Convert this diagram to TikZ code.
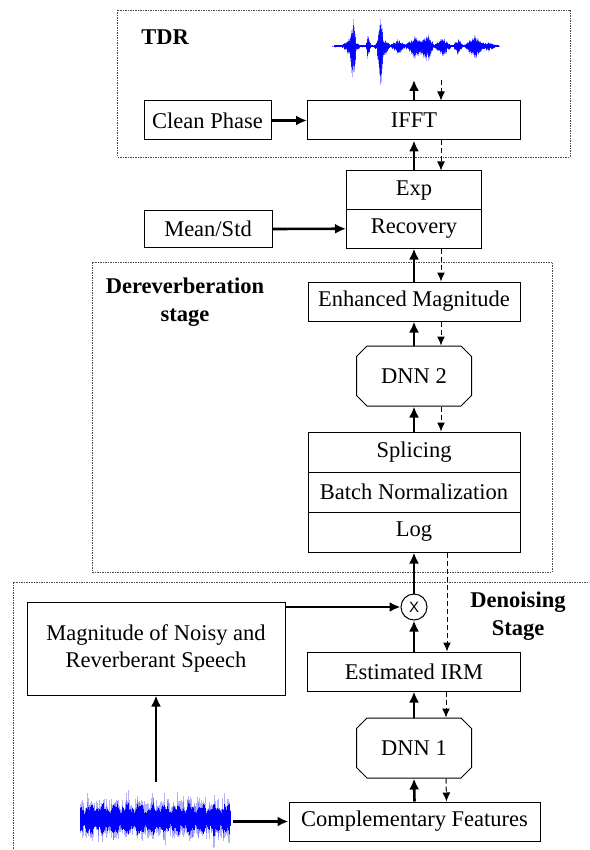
\documentclass[tikz,border=0pt]{standalone}
\usepackage{fontspec}
\setmainfont{Liberation Serif}
\newfontfamily\markfont{Liberation Sans}
\usetikzlibrary{shapes,shapes.misc,arrows.meta,positioning}

\begin{document}
\begin{tikzpicture}[x=1pt, y=-1pt, font=\fontsize{22.5}{27}\selectfont]
		\tikzstyle{Block} 	= [rectangle, draw, line width=1pt, inner sep=0pt, align=center]
		\tikzstyle{Net}		= [chamfered rectangle, chamfered rectangle xsep=12pt, chamfered rectangle angle=45, draw, line width=1pt, inner sep=0pt, minimum width=115pt, minimum height=60pt]
		\tikzstyle{Frame}	= [draw=black!70, line width=0.8pt, dash pattern=on 1.5pt off 1pt]
		\tikzstyle{Flow}	= [line width=2.6pt, -{Latex[length=11pt, width=10pt]}]
		\tikzstyle{Back}	= [line width=1pt, dash pattern=on 5pt off 3pt, -{Latex[length=9pt, width=8pt]}]
		\tikzstyle{Title}	= [font=\fontsize{22.5}{28}\selectfont\bfseries, align=center]
		\tikzstyle{Wave}	= [blue, line width=0.6pt]

		\useasboundingbox (0,0) rectangle (589,850);

		\draw [Frame] (117,10) rectangle (570,157);
		\draw [Frame] (92,262) rectangle (552,572);
		\begin{scope}
			\clip (0,0) rectangle (589,850);
			\draw [Frame] (13,582) rectangle (620,880);
		\end{scope}

		\node (tdrlabel) at (165,37) [Title]{TDR};
		\node (cleanphase) at (207.5,120.5) [Block, minimum width=127pt, minimum height=39pt]{Clean Phase};
		\node (ifft) at (414,120.5) [Block, minimum width=213pt, minimum height=39pt]{IFFT};
		\node (exp) at (414,190.25) [Block, minimum width=135pt, minimum height=38.5pt]{Exp};
		\node (recovery) at (414,228.75) [Block, minimum width=135pt, minimum height=38.5pt]{Recovery};
		\node (meanstd) at (208,229) [Block, minimum width=128pt, minimum height=36pt]{Mean/Std};
		\node (derevlabel) at (185,302) [Title]{Dereverberation\\stage};
		\node (enhanced) at (414,301.5) [Block, minimum width=212pt, minimum height=39pt]{Enhanced Magnitude};
		\node (dnn2) at (414,376) [Net]{DNN 2};
		\node (splicing) at (414,452) [Block, minimum width=212pt, minimum height=40pt]{Splicing};
		\node (batchnorm) at (414,492) [Block, minimum width=212pt, minimum height=40pt]{Batch Normalization};
		\node (log) at (414,532) [Block, minimum width=212pt, minimum height=40pt]{Log};
		\node (denoiselabel) at (518,616) [Title]{Denoising\\Stage};
		\node (mult) at (414,607) [circle, draw, line width=1pt, minimum size=26pt, inner sep=0pt, font=\markfont\fontsize{15}{15}\selectfont]{X};
		\node (noisymag) at (156,648.5) [Block, minimum width=258pt, minimum height=93pt]{Magnitude of Noisy and\\Reverberant Speech};
		\node (irm) at (414,671.5) [Block, minimum width=213pt, minimum height=39pt]{Estimated IRM};
		\node (dnn1) at (414,748) [Net]{DNN 1};
		\node (compfeat) at (414.5,821.5) [Block, minimum width=251pt, minimum height=39pt]{Complementary Features};
		\coordinate (cleanwave) at (414,80);
		\coordinate (noisywave) at (156,782);
		\coordinate (noisyend) at (233,821.5);

		\pgfmathsetseed{7}
		\draw [Wave, opacity=0.5] (332,46) -- (500,46);
		\foreach \x in {334,334.5,...,498} {
			\pgfmathsetmacro{\env}{1 + 20*max(0,1-abs(\x-353)/3) + 7*max(0,1-abs(\x-351)/9) + 10*max(0,1-abs(\x-368)/2.5) + 24*max(0,1-abs(\x-380)/3) + 8*max(0,1-abs(\x-382)/8) + 5*max(0,1-abs(\x-398)/8) + 8*max(0,1-abs(\x-415)/10) + 11*max(0,1-abs(\x-427)/7) + 7*max(0,1-abs(\x-442)/9) + 6*max(0,1-abs(\x-458)/5) + 9*max(0,1-abs(\x-474)/10) + 3*max(0,1-abs(\x-488)/8)}
			\pgfmathsetmacro{\up}{\env*(0.4+0.5*rnd)}
			\pgfmathsetmacro{\dn}{\env*(0.5+0.7*rnd)}
			\draw [Wave, opacity=0.3] (\x,46-\up*1.3) -- (\x,46+\dn*1.3);
			\draw [Wave, opacity=0.85] (\x,46-\up) -- (\x,46+\dn);
		}
		\foreach \x in {80,80.5,...,230} {
			\pgfmathsetmacro{\env}{10 + 2.5*sin(\x*29) + 2*sin(\x*71+40)}
			\pgfmathsetmacro{\up}{\env*(0.7+0.5*rnd)}
			\pgfmathsetmacro{\dn}{\env*(0.7+0.5*rnd)}
			\pgfmathsetmacro{\fu}{\up+16*rnd*rnd}
			\pgfmathsetmacro{\fd}{\dn+16*rnd*rnd}
			\draw [Wave, opacity=0.3] (\x,819-\fu) -- (\x,819+\fd);
			\draw [Wave] (\x,819-\up) -- (\x,819+\dn);
		}

		\draw [Flow] (compfeat.north) to (dnn1.south);
		\draw [Flow] (dnn1.north) to (irm.south);
		\draw [Flow] (irm.north) to (mult.south);
		\draw [Flow] (mult.north) to (log.south);
		\draw [Flow] (splicing.north) to (dnn2.south);
		\draw [Flow] (dnn2.north) to (enhanced.south);
		\draw [Flow] (enhanced.north) to (recovery.south);
		\draw [Flow] (exp.north) to (ifft.south);
		\draw [Flow] (ifft.north) to (cleanwave);
		\draw [Flow] (cleanphase.east) to (ifft.west);
		\draw [Flow] (meanstd.east) to (recovery.west);
		\draw [Flow] (mult.west -| noisymag.east) to (mult.west);
		\draw [Flow] (noisywave) to (noisymag.south);
		\draw [Flow] (noisyend) to (compfeat.west);

		\draw [Back] ([xshift=27pt]cleanwave) to ([xshift=27pt]ifft.north);
		\draw [Back] ([xshift=27pt]ifft.south) to ([xshift=27pt]exp.north);
		\draw [Back] ([xshift=27pt]recovery.south) to ([xshift=27pt]enhanced.north);
		\draw [Back] ([xshift=27pt]enhanced.south) to ([xshift=27pt]dnn2.north);
		\draw [Back] ([xshift=27pt]dnn2.south) to ([xshift=27pt]splicing.north);
		\draw [Back] ([xshift=33pt]log.south) to ([xshift=33pt]irm.north);
		\draw [Back] ([xshift=32pt]irm.south) to ([xshift=32pt]dnn1.north);
		\draw [Back] ([xshift=32pt]dnn1.south) to ([xshift=32pt]compfeat.north);
	\end{tikzpicture}
\end{document}
